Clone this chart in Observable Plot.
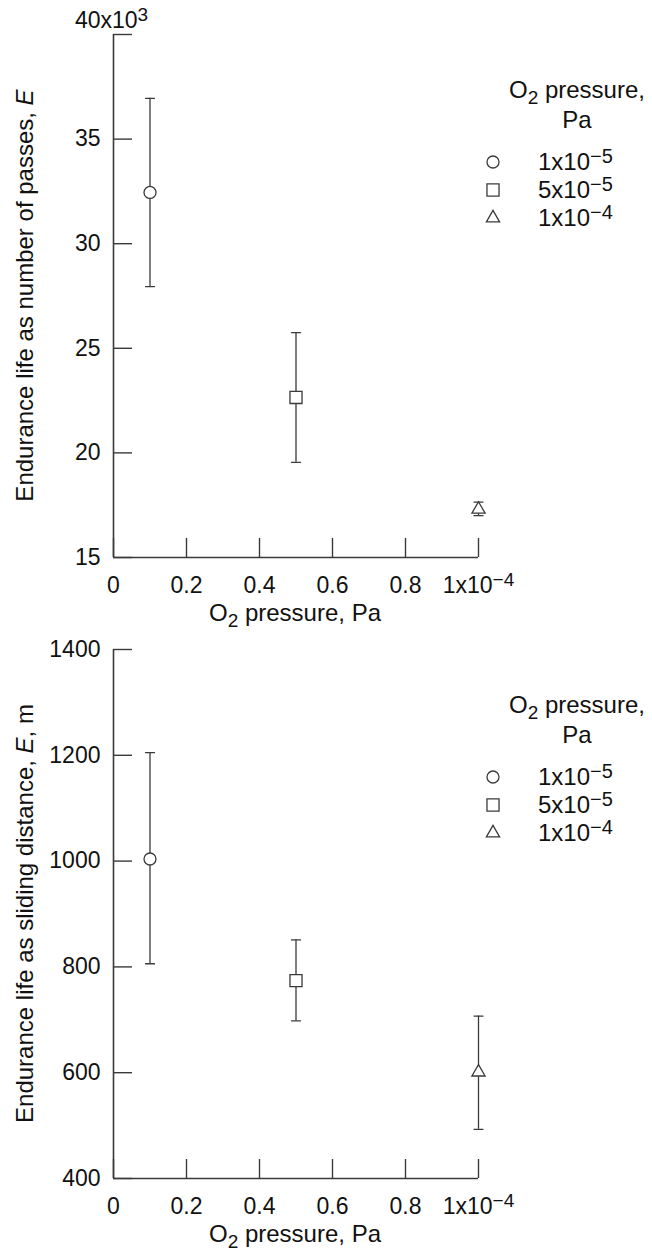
<!DOCTYPE html>
<html>
<head>
<meta charset="utf-8">
<script src="https://cdn.jsdelivr.net/npm/d3@7"></script>
<script src="https://cdn.jsdelivr.net/npm/@observablehq/plot@0.6"></script>
<style>
  html, body { margin: 0; padding: 0; background: #fff; }
  #wrap { position: relative; width: 652px; height: 1251px; overflow: hidden; }
  .panel { position: absolute; left: 0; }
</style>
</head>
<body>
<div id="wrap"></div>
<script>
// ---- data ----
const series = ["1x10-5", "5x10-5", "1x10-4"];
const legendBase = ["1x10", "5x10", "1x10"];
const legendExp = ["\u22125", "\u22125", "\u22124"];
const symbols = ["circle", "square", "triangle"];
const xPos = [0.1, 0.5, 1.0];

const passesMean = [32.45, 22.65, 17.3];
const passesLow = [27.95, 19.55, 17.0];
const passesHigh = [36.95, 25.75, 17.65];

const distMean = [1004, 774, 601];
const distLow = [806, 698, 493];
const distHigh = [1205, 851, 707];

const xTicks = [0, 0.2, 0.4, 0.6, 0.8, 1];
const yTicksTop = [15, 20, 25, 30, 35, 40];
const yTicksBottom = [400, 600, 800, 1000, 1200, 1400];

// ---- style ----
const FONT = '"Liberation Sans", Arial, Helvetica, sans-serif';
const FS = 23;     // tick labels
const AFS = 24;    // axis titles
const LFS = 24;    // legend text
const SUPFS = 19;
const ink = "#3a3a3a";
const textInk = "#111";
const symR = [6, 6.8, 4.9];
const SVGNS = "http://www.w3.org/2000/svg";

function setSup(textEl, base, exp, rise = 7, size = SUPFS) {
  textEl.textContent = "";
  const t1 = document.createElementNS(SVGNS, "tspan");
  t1.textContent = base;
  const t2 = document.createElementNS(SVGNS, "tspan");
  t2.setAttribute("dy", -rise);
  t2.setAttribute("font-size", size);
  t2.textContent = exp;
  textEl.appendChild(t1);
  textEl.appendChild(t2);
}

function o2Text(sel, rest) {
  sel.append("tspan").text("O");
  sel.append("tspan").attr("dy", 6).attr("font-size", SUPFS).text("2");
  sel.append("tspan").attr("dy", -6).text(rest);
}

function panel({mean, low, high, yDomain, yTicks, height, marginTop, yLabel, yLabelTail, top40}) {
  const marginBottom = 73;
  const rows = series.map((s, i) => ({series: s, x: xPos[i], mean: mean[i], low: low[i], high: high[i]}));
  const capShape = {draw(ctx, l) { ctx.moveTo(0, 0); ctx.lineTo(0, -l); }};
  const plot = Plot.plot({
    width: 652, height, marginTop, marginBottom, marginLeft: 113, marginRight: 174,
    style: {fontFamily: FONT, fontSize: FS + "px", color: textInk, background: "white", overflow: "visible"},
    x: {domain: [0, 1]},
    y: {domain: yDomain},
    marks: [
      Plot.ruleX([0], {stroke: ink, strokeWidth: 1.6}),
      Plot.ruleY([yDomain[0]], {stroke: ink, strokeWidth: 1.6}),
      Plot.axisY(yTicks, {tickSize: -19, fill: null, label: null, stroke: ink, strokeWidth: 1.4}),
      Plot.axisY(yTicks, {tickSize: 0, tickPadding: 13, label: null, fill: textInk, tickFormat: d => String(d)}),
      Plot.axisX(xTicks, {tickSize: -19, fill: null, label: null, stroke: ink, strokeWidth: 1.4}),
      Plot.axisX(xTicks, {tickSize: 0, tickPadding: 19, label: null, fill: textInk,
        tickFormat: d => d === 1 ? "1x10\u22124" : String(d)}),
      Plot.ruleX(rows, {x: "x", y1: "low", y2: "high", stroke: ink, strokeWidth: 1.3}),
      Plot.vector(rows, {x: "x", y: "low", length: 9, rotate: 90, anchor: "middle", shape: capShape, stroke: ink, strokeWidth: 1.3}),
      Plot.vector(rows, {x: "x", y: "high", length: 9, rotate: 90, anchor: "middle", shape: capShape, stroke: ink, strokeWidth: 1.3}),
      ...symbols.map((sym, i) => Plot.dot([rows[i]], {x: "x", y: "mean", symbol: sym, r: symR[i], fill: "white", stroke: ink, strokeWidth: 1.3}))
    ]
  });

  // superscript on the last x tick label
  plot.querySelectorAll('g[aria-label="x-axis tick label"] text').forEach(t => {
    if (t.textContent === "1x10\u22124") setSup(t, "1x10", "\u22124");
  });
  // 40x10^3 label on top panel
  if (top40) {
    plot.querySelectorAll('g[aria-label="y-axis tick label"] text').forEach(t => {
      if (t.textContent === "40") {
        const tr = (t.getAttribute("transform") || "") + " translate(0,-14)";
        t.setAttribute("transform", tr);
        const c = t.cloneNode(false);
        c.setAttribute("text-anchor", "start");
        setSup(c, "x10", "3");
        t.parentNode.appendChild(c);
      }
    });
  }

  const svg = d3.select(plot);
  const axisBottom = height - marginBottom;
  // y label
  const yl = svg.append("text")
    .attr("transform", `translate(24,${(marginTop + axisBottom) / 2}) rotate(-90)`)
    .attr("text-anchor", "middle").attr("dominant-baseline", "central")
    .attr("fill", textInk).attr("font-family", FONT).attr("font-size", AFS);
  yl.append("tspan").text(yLabel);
  yl.append("tspan").attr("font-style", "italic").text("E");
  if (yLabelTail) yl.append("tspan").text(yLabelTail);

  // x label
  const xl = svg.append("text")
    .attr("x", 295).attr("y", axisBottom + 64)
    .attr("text-anchor", "middle")
    .attr("fill", textInk).attr("font-family", FONT).attr("font-size", AFS);
  o2Text(xl, " pressure, Pa");

  // legend
  const lg = svg.append("g").attr("font-family", FONT).attr("font-size", LFS).attr("fill", textInk);
  const t1 = lg.append("text").attr("x", 577).attr("y", marginTop + 56 + 8).attr("text-anchor", "middle");
  o2Text(t1, " pressure,");
  lg.append("text").attr("x", 577).attr("y", marginTop + 86 + 8).attr("text-anchor", "middle").text("Pa");
  const symMap = {circle: d3.symbolCircle, square: d3.symbolSquare, triangle: d3.symbolTriangle};
  series.forEach((s, i) => {
    const cy = marginTop + 128 + i * 28;
    lg.append("path")
      .attr("transform", `translate(493,${cy})`)
      .attr("d", d3.symbol(symMap[symbols[i]], Math.PI * symR[i] * symR[i])())
      .attr("fill", "white").attr("stroke", ink).attr("stroke-width", 1.3);
    const tx = lg.append("text").attr("x", 538).attr("y", cy + 8).attr("text-anchor", "start");
    setSup(tx.node(), legendBase[i], legendExp[i], 7, 20);
  });
  return plot;
}

const wrap = document.getElementById("wrap");
const p1 = panel({mean: passesMean, low: passesLow, high: passesHigh, yDomain: [15, 40], yTicks: yTicksTop,
  height: 630, marginTop: 34, yLabel: "Endurance life as number of passes, ", top40: true});
const d1 = document.createElement("div"); d1.className = "panel"; d1.style.top = "0px"; d1.appendChild(p1); wrap.appendChild(d1);
const p2 = panel({mean: distMean, low: distLow, high: distHigh, yDomain: [400, 1400], yTicks: yTicksBottom,
  height: 621, marginTop: 19, yLabel: "Endurance life as sliding distance, ", yLabelTail: ", m", top40: false});
const d2 = document.createElement("div"); d2.className = "panel"; d2.style.top = "630px"; d2.appendChild(p2); wrap.appendChild(d2);
</script>
</body>
</html>
